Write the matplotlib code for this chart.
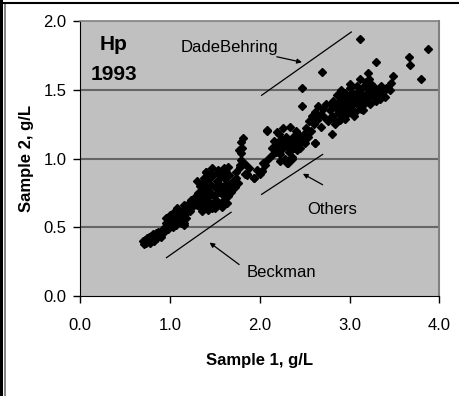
import matplotlib.pyplot as plt
from matplotlib.lines import Line2D

plt.rcParams['font.family'] = ['Liberation Sans', 'DejaVu Sans']

# Hp 1993, sample 1 vs sample 2 (g/L)
sample1 = [
    0.70, 0.71, 0.72, 0.73, 0.74, 0.75, 0.76, 0.77, 0.78, 0.79, 0.80, 0.81, 0.82, 0.83, 0.84, 0.85,
    0.86, 0.87, 0.88, 0.90, 0.91, 0.92,
    0.94, 0.95, 0.96, 0.98, 0.99, 1.00, 1.01, 1.02, 1.03, 1.04, 1.05, 1.06, 1.07, 1.08, 1.09, 1.10,
    1.11, 1.12, 1.13, 1.14, 1.15, 1.16, 1.17, 1.18, 1.19, 1.20, 1.22, 1.23, 1.25,
    1.27, 1.28, 1.30, 1.31, 1.32, 1.33, 1.34, 1.35, 1.36, 1.37, 1.38, 1.39, 1.40, 1.40, 1.41, 1.42,
    1.43, 1.44, 1.45, 1.46, 1.47, 1.48, 1.49, 1.50, 1.51, 1.52, 1.53, 1.54, 1.55, 1.56, 1.57, 1.58,
    1.59, 1.60, 1.61, 1.62, 1.63, 1.64, 1.65, 1.66, 1.67, 1.68, 1.70, 1.72, 1.74, 1.76, 1.73, 1.78,
    1.79, 1.79, 1.80, 1.79, 1.81, 1.77,
    1.36, 1.42, 1.50, 1.45, 1.38, 1.47, 1.55, 1.60, 1.65, 1.58, 1.63, 1.52, 1.30,
    1.84, 1.88, 1.93, 1.97, 2.00, 2.02, 2.04, 2.06, 2.08, 1.83, 1.86,
    2.08, 2.12, 2.14, 2.16, 2.18, 2.20, 2.21, 2.22, 2.24, 2.25, 2.26, 2.27, 2.28, 2.29, 2.30, 2.31,
    2.32, 2.33, 2.34, 2.35, 2.36, 2.37, 2.38, 2.39, 2.40, 2.41, 2.42, 2.43, 2.44, 2.45, 2.47, 2.49,
    2.50, 2.52, 2.54, 2.55, 2.57, 2.58, 2.60, 2.62, 2.61, 2.64, 2.65, 2.67, 2.68, 2.70, 2.19, 2.23,
    2.72, 2.74, 2.76, 2.78, 2.80, 2.82, 2.83, 2.85, 2.86, 2.87, 2.88, 2.89, 2.90, 2.91, 2.92, 2.93,
    2.94, 2.95, 2.96, 2.97, 2.98, 2.99, 3.00, 3.01, 3.02, 3.03, 3.04, 3.05, 3.06, 3.07, 3.08, 3.09,
    3.10, 3.11, 3.12, 3.13, 3.14, 3.15, 3.16, 3.17, 3.18, 3.19, 3.20, 3.21, 3.22, 3.23, 3.24, 3.25,
    3.26, 3.27, 3.28, 3.30, 3.31, 3.33, 3.35, 3.38, 3.40, 3.43, 3.46, 3.45, 2.84, 2.95, 3.05, 3.15,
    3.22, 3.12, 3.00, 2.90, 2.79, 3.02, 3.08, 2.97,
    3.12, 3.87, 3.66, 3.67, 3.80, 2.69, 3.30, 2.47, 2.47, 3.49, 3.41, 3.34, 3.21, 2.80, 2.61, 2.08,
    2.30, 2.36, 1.93, 1.86, 2.02, 1.78, 1.15, 1.40,
]
sample2 = [
    0.40, 0.38, 0.41, 0.39, 0.42, 0.40, 0.43, 0.41, 0.39, 0.44, 0.42, 0.45, 0.40, 0.43, 0.46, 0.44,
    0.42, 0.47, 0.45, 0.43, 0.48, 0.46,
    0.50, 0.57, 0.53, 0.49, 0.55, 0.59, 0.52, 0.56, 0.50, 0.61, 0.54, 0.58, 0.52, 0.64, 0.57, 0.55,
    0.60, 0.53, 0.62, 0.58, 0.52, 0.66, 0.60, 0.57, 0.63, 0.67, 0.62, 0.70, 0.65,
    0.68, 0.72, 0.66, 0.75, 0.70, 0.80, 0.64, 0.73, 0.78, 0.69, 0.83, 0.75, 0.66, 0.90, 0.79, 0.72,
    0.85, 0.68, 0.76, 0.81, 0.64, 0.88, 0.73, 0.79, 0.70, 0.84, 0.92, 0.76, 0.67, 0.81, 0.87, 0.74,
    0.79, 0.70, 0.85, 0.90, 0.77, 0.82, 0.73, 0.88, 0.80, 0.76, 0.84, 0.79, 0.86, 0.82, 0.90, 0.95,
    0.99, 1.04, 1.08, 1.12, 1.15, 1.06,
    0.62, 0.63, 0.64, 0.88, 0.86, 0.93, 0.90, 0.93, 0.94, 0.65, 0.68, 0.66, 0.84,
    0.89, 0.93, 0.86, 0.92, 0.89, 0.91, 0.97, 0.95, 0.99, 0.96, 0.88,
    1.20, 1.02, 1.08, 1.13, 1.05, 1.10, 1.18, 1.03, 1.14, 1.07, 1.22, 1.11, 1.00, 1.16, 1.09, 0.97,
    1.13, 1.05, 1.23, 1.10, 1.01, 1.16, 1.08, 1.12, 1.20, 1.06, 1.14, 1.10, 1.17, 1.08, 1.13, 1.18,
    1.11, 1.22, 1.16, 1.27, 1.20, 1.31, 1.25, 1.34, 1.11, 1.28, 1.38, 1.32, 1.23, 1.36, 1.19, 0.98,
    1.30, 1.40, 1.27, 1.35, 1.31, 1.42, 1.29, 1.37, 1.46, 1.33, 1.41, 1.28, 1.38, 1.44, 1.35, 1.31,
    1.40, 1.48, 1.36, 1.42, 1.33, 1.45, 1.39, 1.51, 1.36, 1.43, 1.40, 1.47, 1.34, 1.41, 1.53, 1.44,
    1.38, 1.49, 1.42, 1.36, 1.46, 1.52, 1.40, 1.44, 1.56, 1.48, 1.43, 1.51, 1.46, 1.40, 1.54, 1.49,
    1.45, 1.52, 1.47, 1.42, 1.50, 1.46, 1.53, 1.49, 1.45, 1.51, 1.55, 1.50, 1.25, 1.29, 1.31, 1.35,
    1.58, 1.58, 1.54, 1.50, 1.40, 1.47, 1.45, 1.38,
    1.87, 1.80, 1.74, 1.68, 1.58, 1.63, 1.70, 1.51, 1.38, 1.60, 1.51, 1.43, 1.62, 1.18, 1.11, 1.21,
    0.97, 1.00, 0.86, 0.89, 0.91, 0.94, 0.53, 0.90,
]

fig = plt.figure(figsize=(4.59, 3.96), dpi=100)
ax = fig.add_axes([0.175, 0.252, 0.782, 0.695])
ax.set_facecolor('#c0c0c0')

ax.plot(sample1, sample2, 'D', color='black', markersize=4.0, linestyle='none', zorder=3)

ax.set_xlim(0, 4)
ax.set_ylim(0, 2)
ax.set_xticks([0, 1, 2, 3, 4])
ax.set_xticklabels(['0.0', '1.0', '2.0', '3.0', '4.0'])
ax.set_yticks([0, 0.5, 1.0, 1.5, 2.0])
ax.set_yticklabels(['0.0', '0.5', '1.0', '1.5', '2.0'])
ax.tick_params(direction='out', length=5, width=1, labelsize=12)
ax.tick_params(axis='x', pad=11)
ax.tick_params(axis='y', pad=5)
for y in [0.5, 1.0, 1.5]:
    ax.axhline(y, color='#666666', linewidth=1.5, zorder=1)

ax.spines['left'].set_color('black')
ax.spines['bottom'].set_color('black')
ax.spines['top'].set_color('#808080')
ax.spines['right'].set_color('#808080')
ax.spines['top'].set_linewidth(1.2)
ax.spines['right'].set_linewidth(1.5)

ax.set_xlabel('Sample 1, g/L', fontsize=12, fontweight='bold', labelpad=14)
ax.set_ylabel('Sample 2, g/L', fontsize=12, fontweight='bold', labelpad=7)

ax.text(0.37, 1.83, 'Hp', fontsize=15, fontweight='bold', ha='center', va='center')
ax.text(0.37, 1.61, '1993', fontsize=15, fontweight='bold', ha='center', va='center')

# method reference lines
ax.plot([2.02, 3.02], [1.46, 1.92], color='black', linewidth=0.9)
ax.plot([2.02, 2.70], [0.74, 1.03], color='black', linewidth=0.9)
ax.plot([0.96, 1.68], [0.28, 0.61], color='black', linewidth=0.9)

arrow = dict(arrowstyle='-|>', color='black', linewidth=0.9, mutation_scale=7, shrinkA=0, shrinkB=0)
ax.text(1.66, 1.81, 'DadeBehring', fontsize=12, ha='center', va='center')
ax.annotate('', xy=(2.47, 1.70), xytext=(2.19, 1.74), arrowprops=arrow)
ax.text(2.81, 0.63, 'Others', fontsize=12, ha='center', va='center')
ax.annotate('', xy=(2.48, 0.89), xytext=(2.70, 0.81), arrowprops=arrow)
ax.text(2.24, 0.17, 'Beckman', fontsize=12, ha='center', va='center')
ax.annotate('', xy=(1.44, 0.39), xytext=(1.77, 0.23), arrowprops=arrow)

# frame around the picture (left and top only)
fig.add_artist(Line2D([0.003, 0.003], [0, 1], color='black', linewidth=2.2, transform=fig.transFigure))
fig.add_artist(Line2D([0.010, 0.010], [0, 0.99], color='#707070', linewidth=1.2, transform=fig.transFigure))
fig.add_artist(Line2D([0.009, 1], [0.992, 0.992], color='black', linewidth=1.5, transform=fig.transFigure))

fig.savefig('out.png', dpi=100)
